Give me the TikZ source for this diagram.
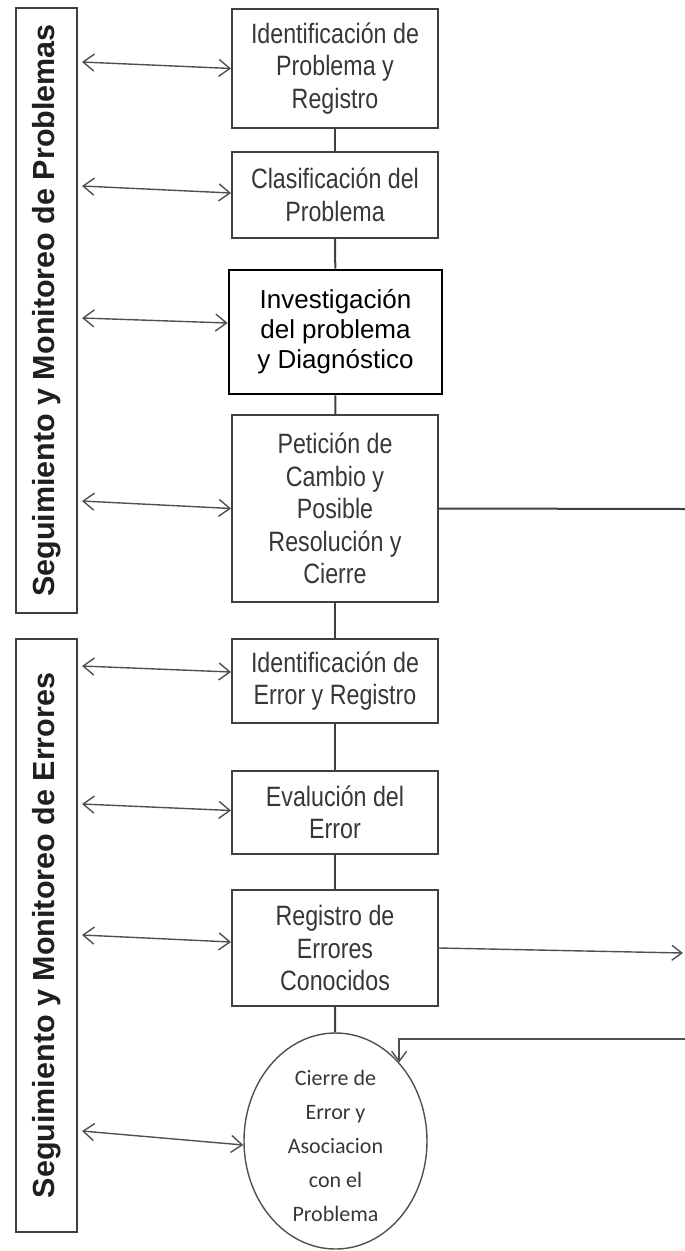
\documentclass[tikz,border=0pt]{standalone}
\usepackage{fontspec}
\setmainfont{Liberation Sans}
\newfontfamily\narrowfont[FakeStretch=0.83]{Liberation Sans}
\newfontfamily\ellfont{Carlito}
\usetikzlibrary{arrows.meta,shapes.geometric}
\definecolor{boxgray}{RGB}{64,64,64}
\definecolor{txtgray}{RGB}{55,55,55}
\definecolor{arrgray}{RGB}{80,80,80}
\begin{document}
\begin{tikzpicture}[x=1pt,y=-1pt,
  stagebox/.style={draw=boxgray, line width=2pt, rectangle, minimum width=206pt,
    align=center, text=txtgray, inner sep=0pt,
    font=\narrowfont\fontsize{28}{32.5}\selectfont},
  keybox/.style={draw=black, line width=2.6pt, rectangle, minimum width=213pt,
    align=center, text=black, inner sep=0pt,
    font=\fontsize{26}{30}\selectfont},
  band/.style={draw=boxgray, line width=1.8pt, rectangle, rotate=90,
    minimum height=61pt, inner sep=0pt, text=black!88,
    font=\bfseries\fontsize{30.5}{33}\selectfont},
  link/.style={draw=boxgray, line width=2pt},
  dbl/.style={{Straight Barb[length=11pt,width=17pt]}-{Straight Barb[length=11pt,width=17pt]},
    line width=1.4pt, draw=arrgray},
  onearrow/.style={-{Straight Barb[length=10pt,width=15pt]}, line width=1.4pt, draw=arrgray}
]
\useasboundingbox (0,0) rectangle (685,1251);

% monitoring bands
\node[band, minimum width=605pt] (bp) at (46.5,310.5) {Seguimiento y Monitoreo de Problemas};
\node[band, minimum width=593pt] (be) at (46.5,935.5) {Seguimiento y Monitoreo de Errores};

% process steps
\node[stagebox, minimum height=119pt] (b1) at (335,68.5) {Identificación de\\Problema y\\Registro};
\node[stagebox, minimum height=86pt] (b2) at (335,195) {Clasificación del\\Problema};
\node[keybox, minimum height=124pt] (b3) at (335.5,332) {Investigación\\del problema\\y Diagnóstico};
\node[stagebox, minimum height=187pt] (b4) at (335,508.5) {Petición de\\Cambio y\\Posible\\Resolución y\\Cierre};
\node[stagebox, minimum height=84pt] (b5) at (335,681) {Identificación de\\Error y Registro};
\node[stagebox, minimum height=83pt] (b6) at (335,812.5) {Evalución del\\Error};
\node[stagebox, minimum height=116pt] (b7) at (335,948) {Registro de\\Errores\\Conocidos};
\node[draw=arrgray, line width=1.4pt, ellipse, minimum width=183pt, minimum height=216pt,
  inner sep=0pt] (e) at (335.5,1141) {};
\node[align=center, text=txtgray, font=\ellfont\fontsize{22}{34}\selectfont]
  (et) at (335.5,1146) {Cierre de\\Error y\\Asociacion\\con el\\Problema};

% vertical flow
\draw[link] (b1) -- (b2);
\draw[link] (b2) -- (b3);
\draw[link] (b3) -- (b4);
\draw[link] (b4) -- (b5);
\draw[link] (b5) -- (b6);
\draw[link] (b6) -- (b7);
\draw[link] (b7) -- (e);

% monitoring links
\coordinate (p1) at (82,62);
\coordinate (p2) at (82,186);
\coordinate (p3) at (82,318);
\coordinate (p4) at (82,501);
\coordinate (p5) at (82,666);
\coordinate (p6) at (82,804);
\coordinate (p7) at (82,935);
\coordinate (p8) at (82,1131);
\draw[dbl] (p1) -- (b1.west);
\draw[dbl] (p2) -- ([yshift=2pt]b2.west);
\draw[dbl] (p3) -- ([yshift=9pt]b3.west);
\draw[dbl] (p4) -- (b4.west);
\draw[dbl] (p5) -- ([yshift=9pt]b5.west);
\draw[dbl] (p6) -- ([yshift=2pt]b6.west);
\draw[dbl] (p7) -- ([yshift=6pt]b7.west);
\draw[dbl] (p8) -- ([yshift=-4pt]e.west);

% links leaving to the right
\coordinate (r4) at (685,509);
\coordinate (r7) at (683,953);
\coordinate (rin) at (685,1039);
\draw[link] (b4.east) -- (r4);
\draw[onearrow] (b7.east) -- (r7);
\draw[onearrow] (rin) -| (e.51.7);
\end{tikzpicture}
\end{document}
